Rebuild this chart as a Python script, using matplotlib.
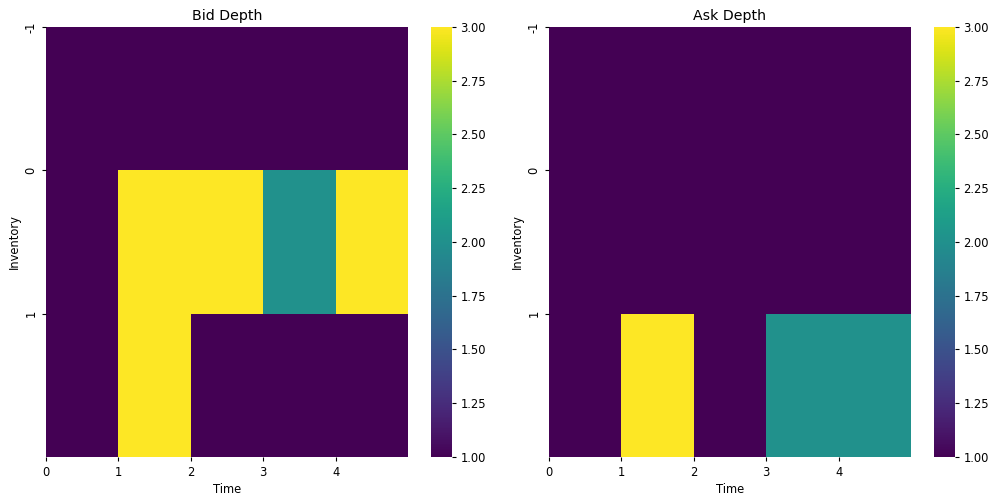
import numpy as np
import matplotlib
matplotlib.use('Agg')
import matplotlib.pyplot as plt
import seaborn as sns

time_labels = [0, 1, 2, 3, 4]
inventory_labels = [-1, 0, 1]

bid_depth = [
    [1, 1, 1, 1, 1],
    [1, 3, 3, 2, 3],
    [1, 3, 1, 1, 1],
]
ask_depth = [
    [1, 1, 1, 1, 1],
    [1, 1, 1, 1, 1],
    [1, 3, 1, 2, 2],
]

plt.rcParams['font.size'] = 8.3
plt.rcParams['axes.titlesize'] = 10.2
plt.rcParams['xtick.major.size'] = 3
plt.rcParams['ytick.major.size'] = 3
plt.rcParams['ytick.major.pad'] = 3

fig = plt.figure(figsize=(9.92, 4.95), dpi=100)
W, H = 992.0, 495.0
bottom = (H - 457) / H
height = 430 / H
ax_lefts = [46, 549]
cb_lefts = [431, 934]

for i, (data, title) in enumerate(zip([bid_depth, ask_depth], ['Bid Depth', 'Ask Depth'])):
    ax = fig.add_axes([ax_lefts[i] / W, bottom, 362 / W, height])
    cax = fig.add_axes([cb_lefts[i] / W, bottom, 21 / W, height])
    sns.heatmap(np.array(data), cmap='viridis', ax=ax, cbar_ax=cax)
    ax.set_title(title, pad=5)
    ax.set_xlabel('Time', labelpad=3)
    ax.set_ylabel('Inventory', labelpad=3)
    ax.set_xticks(np.arange(len(time_labels)))
    ax.set_xticklabels(time_labels, rotation=0)
    ax.set_yticks(np.arange(len(inventory_labels)))
    ax.set_yticklabels(inventory_labels, rotation=90)

plt.savefig('out.png')
